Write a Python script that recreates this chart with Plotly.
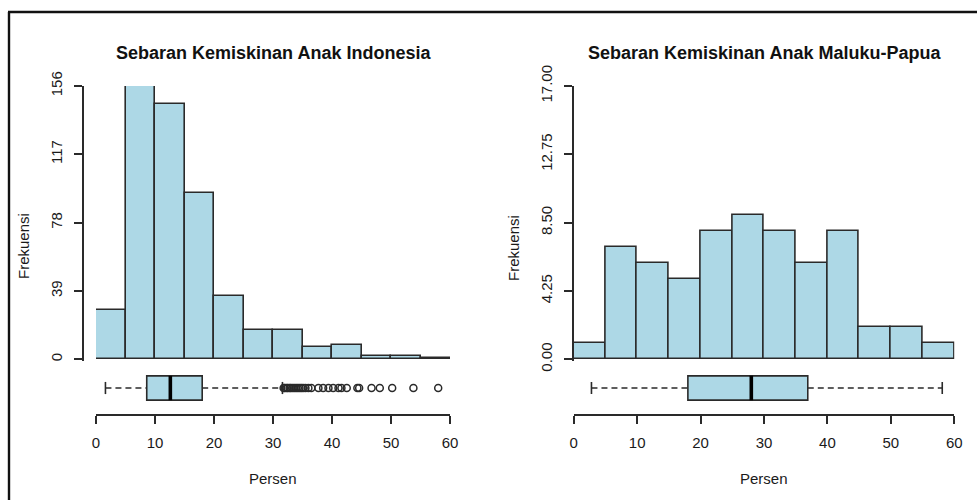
import plotly.graph_objects as go

# ---- data -------------------------------------------------------------
bin_edges = [0, 5, 10, 15, 20, 25, 30, 35, 40, 45, 50, 55, 60]

# Indonesia: histogram counts per 5-percent bin
counts_indonesia = [28, 156, 146, 95, 36, 17, 17, 7, 8, 2, 2, 1]
# Maluku-Papua: histogram counts per 5-percent bin
counts_malpap = [1, 7, 6, 5, 8, 9, 8, 6, 8, 2, 2, 1]

# five-number summaries (lower whisker, Q1, median, Q3, upper whisker)
box_indonesia = [1.6, 8.6, 12.6, 18.0, 31.6]
box_malpap = [2.8, 18.0, 28.0, 36.9, 58.1]

# outlying values of the Indonesia boxplot
outliers_indonesia = [31.8, 32.0, 32.3, 32.5, 32.8, 33.0, 33.3, 33.6, 33.9,
                      34.2, 34.5, 34.8, 35.1, 35.5, 36.0, 36.5, 37.7, 38.5,
                      39.4, 40.2, 41.1, 41.6, 42.5, 44.3, 44.6, 46.7, 48.1,
                      50.2, 53.8, 58.0]
outliers_malpap = []

yticks_indonesia = [0, 39, 78, 117, 156]
yticks_malpap = [0, 4.25, 8.5, 12.75, 17]
yticklabels_malpap = ["0.00", "4.25", "8.50", "12.75", "17.00"]
xticks = [0, 10, 20, 30, 40, 50, 60]

titles = ["Sebaran Kemiskinan Anak Indonesia", "Sebaran Kemiskinan Anak Maluku-Papua"]
xlab = "Persen"
ylab = "Frekuensi"

# ---- styling ----------------------------------------------------------
W, H = 977, 500
FONT = "Liberation Sans, Arial, sans-serif"
INK = "#1a1a1a"
LINE = "#2a2a2a"
FILL = "#ADD8E6"


def px_x(p):
    return p / W


def px_y(p):
    return 1 - p / H


fig = go.Figure()

centers = [(a + b) / 2 for a, b in zip(bin_edges[:-1], bin_edges[1:])]
widths = [b - a for a, b in zip(bin_edges[:-1], bin_edges[1:])]

BOX_W = 0.675     # box thickness in box-axis units
CAP = BOX_W / 4   # half-length of whisker staples


def add_panel(counts, box, outliers, xa, ya, xb, yb):
    fig.add_trace(go.Bar(
        x=centers, y=counts, width=widths,
        marker=dict(color=FILL, line=dict(color=LINE, width=1.6)),
        xaxis=xa, yaxis=ya, showlegend=False, hoverinfo="x+y"))
    lo, q1, med, q3, hi = box
    # whiskers (dashed)
    for a, b in [(lo, q1), (q3, hi)]:
        fig.add_trace(go.Scatter(
            x=[a, b], y=[0.5, 0.5], mode="lines",
            line=dict(color=LINE, width=1.6, dash="6px,4px"),
            xaxis=xb, yaxis=yb, showlegend=False, hoverinfo="skip"))
    # staples
    for v in (lo, hi):
        fig.add_trace(go.Scatter(
            x=[v, v], y=[0.5 - CAP, 0.5 + CAP], mode="lines",
            line=dict(color=LINE, width=1.6),
            xaxis=xb, yaxis=yb, showlegend=False, hoverinfo="skip"))
    # box
    fig.add_trace(go.Box(
        orientation="h", y=[0.5], q1=[q1], median=[med], q3=[q3],
        lowerfence=[q1], upperfence=[q3], width=BOX_W, whiskerwidth=0,
        fillcolor=FILL, line=dict(color=LINE, width=1.6),
        boxpoints=False, xaxis=xb, yaxis=yb, showlegend=False))
    # heavy median bar
    fig.add_trace(go.Scatter(
        x=[med, med], y=[0.5 - BOX_W / 2, 0.5 + BOX_W / 2], mode="lines",
        line=dict(color="#000000", width=3.6),
        xaxis=xb, yaxis=yb, showlegend=False, hoverinfo="skip"))
    if outliers:
        fig.add_trace(go.Scatter(
            x=outliers, y=[0.5] * len(outliers), mode="markers",
            marker=dict(symbol="circle-open", size=7, color=LINE,
                        line=dict(width=1.5, color=LINE)),
            xaxis=xb, yaxis=yb, showlegend=False))


add_panel(counts_indonesia, box_indonesia, outliers_indonesia, "x", "y", "x3", "y3")
add_panel(counts_malpap, box_malpap, outliers_malpap, "x2", "y2", "x4", "y4")

# pixel geometry of the two panels
left_x = (96, 450)
right_x = (573.7, 954.3)
hist_top, hist_zero = 86, 359.3
pad = 1.5
hist_dom = [px_y(hist_zero + pad), px_y(hist_top)]
box_dom = [px_y(406), px_y(370)]
axis_y = px_y(415)

tickfont = dict(family=FONT, size=15, color=INK)


def hist_yaxis(ymax, tickvals, ticktext, pos):
    per_px = ymax / (hist_zero - hist_top)
    return dict(domain=hist_dom, range=[-pad * per_px, ymax], anchor="free",
                position=pos, showline=True, linecolor=LINE, linewidth=1.7,
                ticks="outside", ticklen=8, tickwidth=1.7, tickcolor=LINE,
                tickvals=tickvals, ticktext=ticktext, tickangle=-90,
                tickfont=tickfont, ticklabelstandoff=6, automargin=False,
                showgrid=False, zeroline=False, fixedrange=True)


def box_xaxis(dom):
    return dict(domain=dom, range=[0, 60], anchor="free", position=axis_y,
                showline=True, linecolor=LINE, linewidth=1.7,
                ticks="outside", ticklen=8, tickwidth=1.7, tickcolor=LINE,
                tickvals=xticks, tickfont=tickfont, ticklabelstandoff=6,
                automargin=False,
                showgrid=False, zeroline=False, fixedrange=True)


ldom = [px_x(left_x[0]), px_x(left_x[1])]
rdom = [px_x(right_x[0]), px_x(right_x[1])]
hidden = dict(visible=False, showgrid=False, zeroline=False, fixedrange=True,
              automargin=False)

fig.update_layout(
    template="none",
    width=W, height=H, margin=dict(l=0, r=0, t=0, b=0, pad=0),
    paper_bgcolor="white", plot_bgcolor="rgba(0,0,0,0)",
    font=dict(family=FONT, size=15, color=INK),
    bargap=0,
    xaxis=dict(domain=ldom, range=[0, 60], anchor="y", **hidden),
    yaxis=hist_yaxis(156, yticks_indonesia, [str(v) for v in yticks_indonesia], px_x(83)),
    xaxis2=dict(domain=rdom, range=[0, 60], anchor="y2", **hidden),
    yaxis2=hist_yaxis(17, yticks_malpap, yticklabels_malpap, px_x(573)),
    xaxis3=box_xaxis(ldom),
    yaxis3=dict(domain=box_dom, range=[0, 1], anchor="x3", **hidden),
    xaxis4=box_xaxis(rdom),
    yaxis4=dict(domain=box_dom, range=[0, 1], anchor="x4", **hidden),
)

# titles and axis labels
ann = []
for title, cx in zip(titles, [273, 764]):
    ann.append(dict(text=f"<b>{title}</b>", x=px_x(cx), y=px_y(53),
                    font=dict(family=FONT, size=18, color="#111111")))
for cx in [273, 764]:
    ann.append(dict(text=xlab, x=px_x(cx), y=px_y(478),
                    font=dict(family=FONT, size=15, color=INK)))
for cx, cy in [(23, 246), (513, 248)]:
    ann.append(dict(text=ylab, x=px_x(cx), y=px_y(cy), textangle=-90,
                    font=dict(family=FONT, size=15, color=INK)))
for a in ann:
    a.update(xref="paper", yref="paper", showarrow=False,
             xanchor="center", yanchor="middle")
fig.update_layout(annotations=ann)

# outer frame (left and top edges)
fig.update_layout(shapes=[
    dict(type="line", xref="paper", yref="paper", x0=px_x(9), x1=px_x(9),
         y0=0, y1=px_y(12), line=dict(color="#111111", width=2.4)),
    dict(type="line", xref="paper", yref="paper", x0=px_x(8), x1=1,
         y0=px_y(12), y1=px_y(12), line=dict(color="#111111", width=2.4)),
])

fig.write_html("out.html")
